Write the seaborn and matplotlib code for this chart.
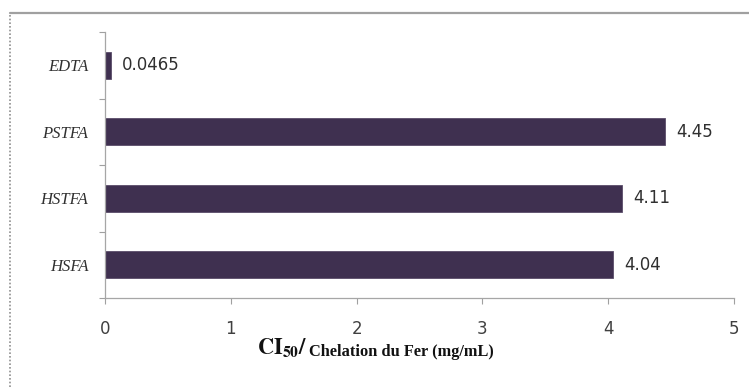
import matplotlib
matplotlib.use("Agg")
import matplotlib.pyplot as plt
import seaborn as sns
import pandas as pd
from matplotlib.lines import Line2D
from matplotlib.ticker import FixedLocator

# IC50 values for iron chelation (mg/mL), plotted bottom to top
samples = ["EDTA", "PSTFA", "HSTFA", "HSFA"]
ic50 = [0.0465, 4.45, 4.11, 4.04]
value_labels = ["0.0465", "4.45", "4.11", "4.04"]
x_ticks = [0, 1, 2, 3, 4, 5]

df = pd.DataFrame({"sample": samples, "ic50": ic50})

sns.set_theme(style="white")
plt.rcParams["font.family"] = ["DejaVu Sans"]
plt.rcParams["mathtext.fontset"] = "stix"

fig = plt.figure(figsize=(7.49, 3.87), dpi=100)
ax = fig.add_axes([105 / 749, 1 - 298 / 387, (734 - 105) / 749, (298 - 32) / 387])

bar_color = "#3f3050"
sns.barplot(data=df, x="ic50", y="sample", order=samples, color=bar_color,
            width=0.4, edgecolor="#5a4c6a", linewidth=0.6, saturation=1, ax=ax)

ax.set_xlim(0, 5)
ax.set_ylim(len(samples) - 0.5, -0.5)
ax.xaxis.set_major_locator(FixedLocator(x_ticks))
ax.set_xticklabels([str(t) for t in x_ticks], fontsize=12, color="#404040")

# category labels sit between boundary ticks
ax.set_yticks(range(len(samples)))
ax.set_yticklabels(samples, fontsize=12, style="italic", family="Liberation Serif",
                   color="#303030")
ax.yaxis.set_minor_locator(FixedLocator([i - 0.5 for i in range(len(samples) + 1)]))
ax.tick_params(axis="y", which="major", length=0, pad=12)
ax.tick_params(axis="y", which="minor", length=4, color="#a0a0a0", width=0.8, left=True)
ax.tick_params(axis="x", which="major", length=4, color="#a0a0a0", width=0.8,
               bottom=True, pad=12)

for side in ["top", "right"]:
    ax.spines[side].set_visible(False)
for side in ["left", "bottom"]:
    ax.spines[side].set_color("#a6a6a6")
    ax.spines[side].set_linewidth(0.9)

ax.set_xlabel("")
ax.set_ylabel("")

for i, (v, lab) in enumerate(zip(ic50, value_labels)):
    ax.annotate(lab, xy=(v, i), xytext=(8, 0), textcoords="offset points",
                va="center", ha="left", fontsize=12, color="#303030")

# axis title: CI50 / chelation du fer
fig.text(257 / 749, 1 - 354 / 387, r"$\mathbf{CI}_{\mathbf{50}}\mathbf{/}$",
         fontsize=16, ha="left", va="baseline", color="#111111")
fig.text(309 / 749, 1 - 356 / 387, "Chelation du Fer (mg/mL)",
         family="Liberation Serif", fontweight="bold", fontsize=11.8,
         ha="left", va="baseline", color="#111111")

# chart-area frame
fig.add_artist(Line2D([10 / 749, 1], [1 - 12.5 / 387, 1 - 12.5 / 387],
                      transform=fig.transFigure, color="#a0a0a0", lw=1.6))
fig.add_artist(Line2D([9.5 / 749, 9.5 / 749], [0, 1 - 12.5 / 387],
                      transform=fig.transFigure, color="#909090", lw=1.2,
                      linestyle=(0, (1, 1.2))))

fig.savefig("out.png", dpi=100)
